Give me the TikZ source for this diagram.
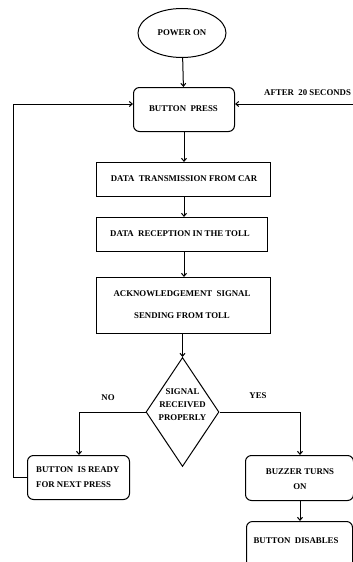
\documentclass[tikz,border=0pt]{standalone}
\usepackage{fontspec}
\setmainfont{Liberation Serif}
\usetikzlibrary{shapes.geometric,arrows.meta}
\begin{document}
\begin{tikzpicture}[x=1pt,y=-1pt,
  every node/.style={font=\fontsize{8.8}{10}\selectfont\bfseries, inner sep=0pt},
  box/.style={draw, line width=1pt, minimum width=#1, anchor=north west},
  rbox/.style={draw, line width=1pt, rounded corners=6pt, anchor=north west},
  conn/.style={line width=1pt, -{Straight Barb[length=3pt,width=5pt]}},
  plain/.style={line width=1pt}]
\useasboundingbox (0,0) rectangle (353,562);
\node[draw, ellipse, line width=1pt, minimum width=88pt, minimum height=49pt] (pow) at (182,33) {POWER ON};
\node[rbox, minimum width=101pt, minimum height=44pt] (bp) at (133,87) {};
\node at (183.5,109) {BUTTON\ \ PRESS};
\node[box=174pt, minimum height=34pt] (dt) at (96,162) {};
\node at (184,179) {DATA\ \ TRANSMISSION FROM CAR};
\node[box=171pt, minimum height=34pt] (dr) at (96,217) {};
\node at (180,234) {DATA\ \ RECEPTION IN THE TOLL};
\node[box=174pt, minimum height=56pt] (ack) at (96,277) {};
\node at (182,293.5) {ACKNOWLEDGEMENT\ \ SIGNAL};
\node at (182,315.5) {SENDING FROM TOLL};
\node[draw, diamond, line width=1pt, minimum width=73pt, minimum height=109pt, aspect=0.67] (dia) at (182.5,412) {};
\node[align=center, font=\fontsize{8.8}{13}\selectfont\bfseries] at (182.5,405) {SIGNAL\\RECEIVED\\PROPERLY};
\node at (108,398) {NO};
\node at (258,396) {YES};
\node[rbox, minimum width=102pt, minimum height=44pt] (rdy) at (27,455) {};
\node[anchor=west, align=left, font=\fontsize{8.8}{15}\selectfont\bfseries] at (36,477.5) {BUTTON\ \ IS READY\\FOR NEXT PRESS};
\node[rbox, minimum width=108pt, minimum height=45pt] (buz) at (245,455) {};
\node[align=center, font=\fontsize{8.8}{14.5}\selectfont\bfseries] at (300,479) {BUZZER TURNS\\ON};
\node[rbox, minimum width=106pt, minimum height=55pt] (dis) at (246,521) {};
\node at (296,541) {BUTTON\ \ DISABLES};
\node[anchor=west] (aft) at (264,93) {AFTER\ \ 20 SECONDS};
\coordinate (rt) at (365,104);
\coordinate (rb) at (365,542);
\coordinate (lx) at (13,477);
\draw[conn] (pow) -- (bp);
\draw[conn] (bp) -- (dt.north -| bp.south);
\draw[conn] (dt.south -| bp.south) -- (dr.north -| bp.south);
\draw[conn] (dr.south -| bp.south) -- (ack.north -| bp.south);
\draw[conn] (ack.south -| dia.north) -- (dia.north);
\draw[conn] (dia.west) -| (79,455);
\draw[conn] (dia.east) -| (300,455);
\draw[conn] (buz.south -| 300,0) -- (dis.north -| 300,0);
\draw[conn] (rdy.west |- lx) -- (lx) -- (13,104) -- (bp.west |- 0,104);
\draw[plain] (dis.east |- rb) -- (rb) -- (rt);
\draw[conn] (rt) -- (bp.east |- 0,104);
\end{tikzpicture}
\end{document}
